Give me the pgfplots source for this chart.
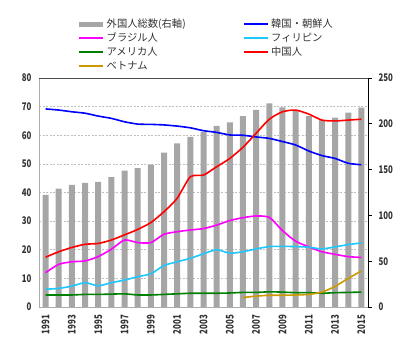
\documentclass[border=0pt]{standalone}
\usepackage{pgfplots}
\pgfplotsset{compat=1.18}
\usepackage{fontspec}
\setmainfont{Noto Sans CJK JP}
\usepackage{graphicx}
\definecolor{bargray}{RGB}{166,166,166}
\definecolor{labelgray}{RGB}{51,51,51}
\definecolor{kor}{RGB}{0,0,255}
\definecolor{bra}{RGB}{255,0,255}
\definecolor{phi}{RGB}{30,200,255}
\definecolor{usa}{RGB}{0,128,0}
\definecolor{chn}{RGB}{255,0,0}
\definecolor{vie}{RGB}{204,153,0}
\newcommand{\nar}[1]{\scalebox{0.75}[1]{#1}}
\begin{document}
\begin{tikzpicture}
\useasboundingbox (0,0) rectangle (413pt,356pt);
% bars: total foreigners (right axis)
\begin{axis}[
  at={(39pt,49pt)}, anchor=south west,
  scale only axis, width=329pt, height=229pt,
  xmin=1990.5, xmax=2015.5, ymin=0, ymax=250,
  axis y line*=right, axis x line=none,
  y axis line style={black, line width=0.9pt, -},
  ytick={0,50,...,250},
  ytick style={black, line width=0.8pt},
  tick align=outside, major tick length=4pt,
  /pgf/number format/assume math mode=true,
  yticklabel={\nar{\pgfmathprintnumber{\tick}}},
  tick label style={font=\fontsize{10.5}{11}\selectfont\bfseries, text=labelgray},
  yticklabel style={xshift=3pt},
  extra y ticks={31.25,62.5,...,218.75},
  extra y tick labels={},
  extra y tick style={grid=major, major tick length=0pt, major grid style={gray!50, dash pattern=on 2pt off 1.5pt, line width=0.6pt}},
]
\addplot[ybar, bar width=6pt, fill=bargray, draw=none] coordinates {
(1991,122.3) (1992,129.1) (1993,133.2) (1994,135.4) (1995,136.5)
(1996,141.9) (1997,148.8) (1998,151.7) (1999,155.3) (2000,168.4)
(2001,178.7) (2002,185.6) (2003,191.4) (2004,197.6) (2005,201.6)
(2006,208.5) (2007,215.1) (2008,222.4) (2009,218.0) (2010,215.1)
(2011,208.5) (2012,204.1) (2013,206.7) (2014,212.1) (2015,217.6)};
\end{axis}
% lines (left axis)
\begin{axis}[
  at={(39pt,49pt)}, anchor=south west,
  scale only axis, width=329pt, height=229pt,
  xmin=1990.5, xmax=2015.5, ymin=0, ymax=80,
  axis x line*=bottom, axis y line*=left,
  axis line style={gray!65, line width=0.9pt, -},
  ytick={0,10,...,80}, ytick style={draw=none},
  xtick={1991,1993,...,2015}, xtick style={draw=none},
  minor xtick={1991.5,1992.5,...,2014.5},
  minor x tick style={gray!70, line width=0.6pt},
  tick align=inside, minor tick length=3.5pt,
  /pgf/number format/assume math mode=true,
  yticklabel={\nar{\pgfmathprintnumber{\tick}}},
  xticklabel={\nar{\pgfmathprintnumber[set thousands separator={}]{\tick}}},
  tick label style={font=\fontsize{10.5}{11}\selectfont\bfseries, text=labelgray},
  yticklabel style={xshift=-4pt},
  xticklabel style={rotate=90, anchor=east, inner xsep=8pt},
  legend columns=2,
  legend cell align=left,
  legend style={draw=none, fill=none, at={(0.1125,1.266)}, anchor=north west,
    font=\fontsize{10.3}{12}\selectfont, text=labelgray, inner sep=0pt, row sep=0pt,
    /tikz/every even column/.append style={column sep=56pt},
    nodes={inner sep=1.5pt, text height=8.5pt, text depth=2.5pt}},
  legend image code/.code={\draw[#1, line width=2.4pt] (0pt,0pt) -- (24pt,0pt);},
]
\addlegendimage{legend image code/.code={\draw[bargray, line width=5pt] (0pt,0pt) -- (24pt,0pt);}}
\addlegendentry{外国人総数(右軸)}
\addplot[kor, line width=1.6pt, smooth, tension=0.4] coordinates {
(1991,69.2) (1992,68.8) (1993,68.2) (1994,67.7) (1995,66.7)
(1996,65.9) (1997,64.7) (1998,63.9) (1999,63.8) (2000,63.6)
(2001,63.2) (2002,62.6) (2003,61.6) (2004,61.0) (2005,60.1)
(2006,60.0) (2007,59.4) (2008,58.9) (2009,57.8) (2010,56.6)
(2011,54.5) (2012,52.9) (2013,51.9) (2014,50.2) (2015,49.7)};
\addlegendentry{韓国・朝鮮人}
\addplot[bra, line width=1.6pt, smooth, tension=0.4] coordinates {
(1991,12.0) (1992,14.9) (1993,15.8) (1994,16.1) (1995,17.6)
(1996,20.2) (1997,23.4) (1998,22.5) (1999,22.5) (2000,25.4)
(2001,26.3) (2002,26.9) (2003,27.4) (2004,28.6) (2005,30.2)
(2006,31.2) (2007,31.8) (2008,31.3) (2009,26.7) (2010,23.0)
(2011,21.0) (2012,19.3) (2013,18.4) (2014,17.6) (2015,17.3)};
\addlegendentry{ブラジル人}
\addplot[phi, line width=1.6pt, smooth, tension=0.4] coordinates {
(1991,6.2) (1992,6.5) (1993,7.3) (1994,8.5) (1995,7.4)
(1996,8.5) (1997,9.4) (1998,10.6) (1999,11.6) (2000,14.5)
(2001,15.8) (2002,17.0) (2003,18.6) (2004,20.0) (2005,18.8)
(2006,19.3) (2007,20.3) (2008,21.1) (2009,21.2) (2010,21.1)
(2011,20.9) (2012,20.3) (2013,21.0) (2014,21.8) (2015,22.4)};
\addlegendentry{フィリピン}
\addplot[usa, line width=1.6pt, smooth, tension=0.4] coordinates {
(1991,4.2) (1992,4.2) (1993,4.2) (1994,4.4) (1995,4.4)
(1996,4.5) (1997,4.6) (1998,4.2) (1999,4.2) (2000,4.4)
(2001,4.6) (2002,4.8) (2003,4.8) (2004,4.8) (2005,4.9)
(2006,5.1) (2007,5.1) (2008,5.3) (2009,5.2) (2010,5.0)
(2011,5.0) (2012,4.8) (2013,5.0) (2014,5.1) (2015,5.2)};
\addlegendentry{アメリカ人}
\addplot[chn, line width=1.6pt, smooth, tension=0.4] coordinates {
(1991,17.4) (1992,19.3) (1993,20.8) (1994,21.9) (1995,22.2)
(1996,23.4) (1997,25.2) (1998,27.1) (1999,29.5) (2000,33.3)
(2001,38.0) (2002,45.5) (2003,46.1) (2004,49.0) (2005,51.9)
(2006,55.8) (2007,60.7) (2008,65.6) (2009,68.2) (2010,68.8)
(2011,67.4) (2012,65.3) (2013,65.0) (2014,65.3) (2015,65.6)};
\addlegendentry{中国人}
\addplot[vie, line width=1.6pt, smooth, tension=0.4] coordinates {
(2006,3.3) (2007,3.8) (2008,4.1) (2009,4.1) (2010,4.2)
(2011,4.4) (2012,5.2) (2013,7.2) (2014,10.0) (2015,12.6)};
\addlegendentry{ベトナム}
\draw[gray!60!black, line width=0.9pt] (rel axis cs:0,1) -- (rel axis cs:1,1);
\node[font=\fontsize{10.5}{11}\selectfont\bfseries, text=labelgray] at (axis description cs:-0.058,1.087) {万};
\node[font=\fontsize{10.5}{11}\selectfont\bfseries, text=labelgray] at (axis description cs:1.046,1.087) {万};
\end{axis}
\end{tikzpicture}
\end{document}
